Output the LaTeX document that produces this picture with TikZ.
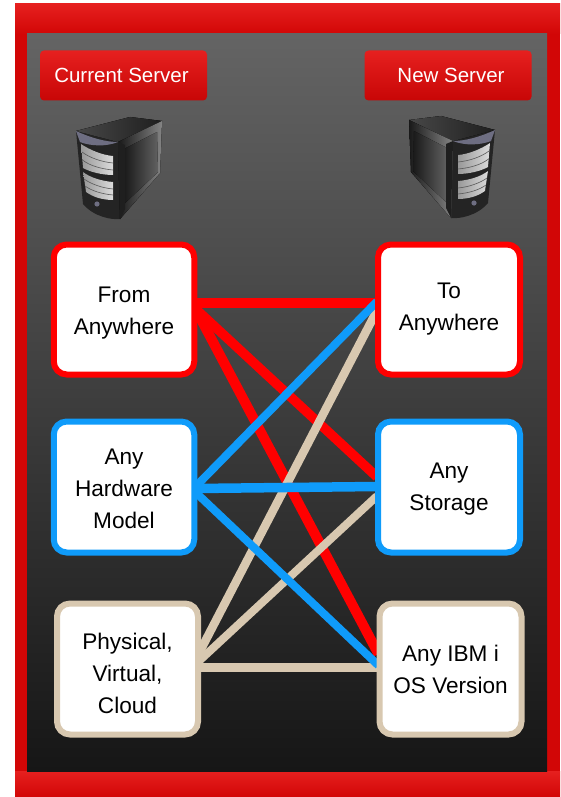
\documentclass[tikz,border=0pt]{standalone}
\usepackage{fontspec}
\setmainfont{Liberation Sans}
\usetikzlibrary{calc,backgrounds}
\definecolor{redB}{HTML}{FF0000}
\definecolor{blueB}{HTML}{0F9BFA}
\definecolor{tanB}{HTML}{D8C8B0}
\definecolor{frameA}{HTML}{E6201F}
\definecolor{frameB}{HTML}{D20606}
\definecolor{headB}{HTML}{C80606}
\definecolor{bgA}{HTML}{646464}
\definecolor{bgB}{HTML}{161616}
\definecolor{rimC}{HTML}{6E6E82}
\newcommand{\dn}[1]{\rule{0pt}{#1pt}}
\tikzset{
  card/.style={draw=#1,line width=6pt,fill=white,rounded corners=13pt,minimum width=140.5pt,minimum height=130pt,align=center,font=\fontsize{22.6}{32}\selectfont,text=black,inner sep=0pt},
  head/.style={rounded corners=4pt,minimum width=167pt,minimum height=50pt,top color=frameA,bottom color=headB,text=white,font=\fontsize{20.5}{24}\selectfont,inner sep=0pt},
  link/.style={draw=#1},
  server/.pic={
    % body
    \fill[black!86] (0,14) -- (54,0) -- (86,4) -- (84,56) -- (44,102) .. controls (36,103) and (18,100) .. (7,87) -- cycle;
    % top face
    \fill[left color=black!72,right color=black!88] (0,14) -- (54,0) -- (86,4) -- (42,25) -- cycle;
    % side face
    \fill[left color=black!90,right color=black!48] (42,25) -- (86,4) -- (84,56) -- (44,102) -- cycle;
    \fill[left color=black!90,right color=black!62] (48,32) -- (81,15) -- (82,55) -- (48,87) -- cycle;
    \fill[black!88] (42,25) -- (49,28) -- (49,92) -- (44,102) -- cycle;
    % rim
    \fill[rimC] (0,14) .. controls (15,21) and (30,25) .. (42,25) .. controls (30,30) and (14,29) .. (4,25) -- cycle;
    % drives
    \fill[left color=black!40,right color=black!14] (5,27) .. controls (14,33) and (26,38) .. (37,39) -- (37,58) .. controls (26,58) and (14,55) .. (7,51) -- cycle;
    \fill[left color=black!40,right color=black!14] (7,55) .. controls (15,61) and (26,64) .. (37,65) -- (37,83) .. controls (26,83) and (17,80) .. (10,75) -- cycle;
    \fill[rimC] (21,87) circle (2.6);
    \draw[black!65,line width=.6pt] (6,35) .. controls (14,41) and (26,45) .. (37,46) (6.5,43) .. controls (14,49) and (26,52) .. (37,53) (8,62) .. controls (15,67) and (26,71) .. (37,72) (9,69) .. controls (16,74) and (26,77) .. (37,78);
  }
}
\begin{document}
\begin{tikzpicture}[x=1pt,y=-1pt]
\useasboundingbox (0,0) rectangle (560,797);
\node[head] (cur) at (123.5,75.5) {\hspace*{-4pt}Current Server};
\node[head] (new) at (448,75.5) {\hspace*{6pt}New Server};
\pic at (76,117) {server};
\pic[xscale=-1] at (495,116) {server};
\node[card=redB] (from) at (124,309.5) {\dn{22}From\\Anywhere};
\node[card=blueB,minimum height=131pt] (hw) at (124,487) {\dn{20}Any\\Hardware\\Model};
\node[card=tanB,minimum width=141pt,minimum height=131pt] (phys) at (127.5,669) {\dn{26}Physical,\\Virtual,\\Cloud};
\node[card=redB,minimum width=142pt] (to) at (449,309.5) {To\\Anywhere};
\node[card=blueB,minimum width=142pt,minimum height=131pt] (stor) at (449,487) {\dn{20}Any\\Storage};
\node[card=tanB,minimum width=142pt,minimum height=131pt] (ibm) at (450.5,669) {Any IBM i\\OS Version};
% link end points, on the card borders
\coordinate (fa) at ($(from.east)+(-2,-6.5)$);
\coordinate (fb) at ($(from.east)+(-2,-1)$);
\coordinate (ha) at ($(hw.east)+(-2,0)$);
\coordinate (hb) at ($(hw.east)+(-2,1.5)$);
\coordinate (hc) at ($(hw.east)+(-2,5)$);
\coordinate (pa) at ($(phys.east)+(-3,-14)$);
\coordinate (pb) at ($(phys.east)+(-3,-7)$);
\coordinate (pc) at ($(phys.east)+(-3,-1.5)$);
\coordinate (ta) at ($(to.west)+(2,-6.5)$);
\coordinate (tb) at ($(to.west)+(2,-8)$);
\coordinate (tc) at ($(to.west)+(2,1)$);
\coordinate (sa) at ($(stor.west)+(2,-10)$);
\coordinate (sb) at ($(stor.west)+(2,-.5)$);
\coordinate (sc) at ($(stor.west)+(2,9)$);
\coordinate (ia) at ($(ibm.west)+(2,-15)$);
\coordinate (ib) at ($(ibm.west)+(2,-3.5)$);
\coordinate (ic) at ($(ibm.west)+(2,-1.5)$);
\begin{pgfonlayer}{background}
\fill[white] (0,0) rectangle (560,797);
\fill[frameB] (15,4) rectangle (560,797);
\fill[top color=frameA,bottom color=frameB] (15,4) rectangle (560,34);
\fill[top color=frameA,bottom color=frameB] (15,771) rectangle (560,797);
\fill[top color=bgA,bottom color=bgB] (27,34) rectangle (547,771);
\draw[link=redB,line width=10pt] (fa) -- (ta);
\draw[link=redB,line width=9.5pt] (fb) -- (sa);
\draw[link=redB,line width=10pt] (fb) -- (ia);
\draw[link=tanB,line width=8.5pt] (pa) -- (tc);
\draw[link=tanB,line width=8pt] (pb) -- (sc);
\draw[link=tanB,line width=9.5pt] (pc) -- (ic);
\draw[link=blueB,line width=8pt] (ha) -- (tb);
\draw[link=blueB,line width=9.5pt] (hb) -- (sb);
\draw[link=blueB,line width=8pt] (hc) -- (ib);
\end{pgfonlayer}
\end{tikzpicture}
\end{document}
